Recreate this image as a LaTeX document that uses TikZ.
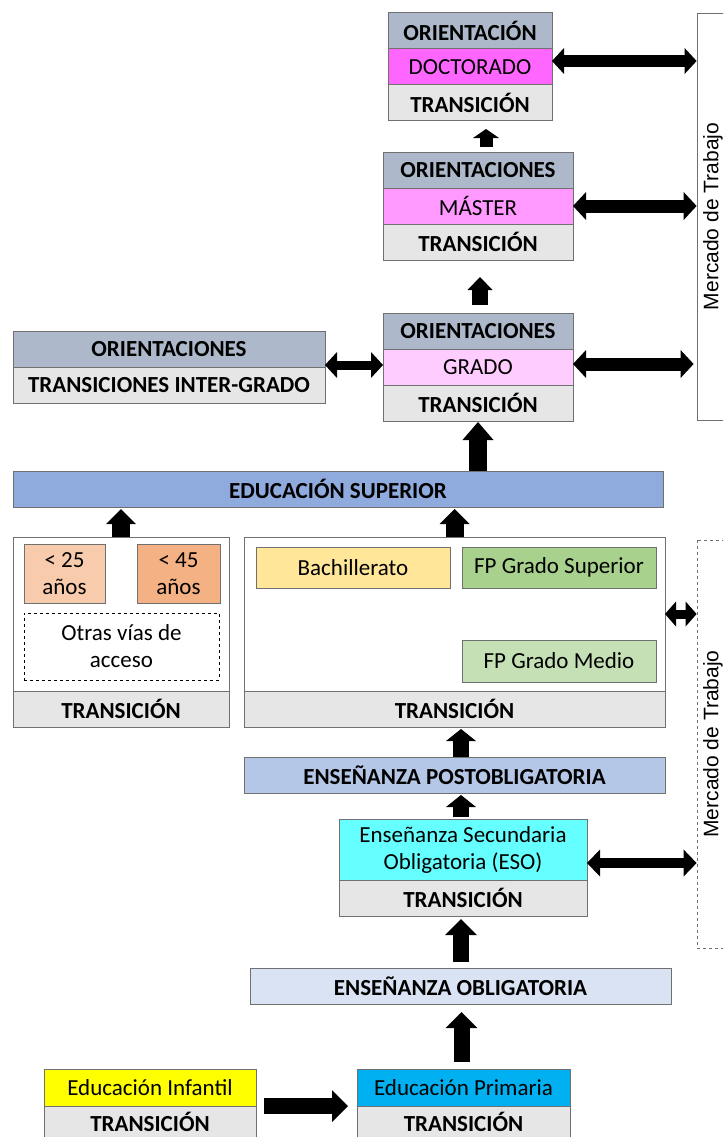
\documentclass[tikz,border=0pt]{standalone}
\usepackage{fontspec}
\setmainfont{Carlito}
\newfontfamily\arialfont{Liberation Sans}
\usetikzlibrary{arrows.meta,positioning}

\definecolor{edge}{HTML}{707070}
\definecolor{hdrgray}{HTML}{ADB9CA}
\definecolor{transgray}{HTML}{E6E6E6}
\definecolor{doccol}{HTML}{FF66FF}
\definecolor{mastcol}{HTML}{FF99FF}
\definecolor{gradcol}{HTML}{FFCCFF}
\definecolor{supcol}{HTML}{8FAADC}
\definecolor{postcol}{HTML}{B4C7E7}
\definecolor{oblcol}{HTML}{DAE3F3}
\definecolor{esocol}{HTML}{66FFFF}
\definecolor{bachcol}{HTML}{FFE699}
\definecolor{fpscol}{HTML}{A9D18E}
\definecolor{fpmcol}{HTML}{C5E0B4}
\definecolor{menorcol}{HTML}{F8CBAD}
\definecolor{mayorcol}{HTML}{F4B183}
\definecolor{infcol}{HTML}{FFFF00}
\definecolor{primcol}{HTML}{00B0F0}

\tikzset{
  box/.style={draw=edge, line width=1pt, rectangle, inner sep=0pt, outer sep=0pt,
    minimum height=36pt, align=center, font=\fontsize{23}{27}\selectfont},
  hdr/.style={box, fill=hdrgray, font=\fontsize{23}{27}\selectfont\bfseries},
  trans/.style={box, fill=transgray, font=\fontsize{23}{27}\selectfont\bfseries},
  mercado/.style={draw=edge, line width=0.8pt, rotate=90, inner sep=0pt,
    minimum width=407pt, minimum height=32pt, font=\arialfont\fontsize{21}{24}\selectfont},
  fatarr/.style n args={3}{line width=#1, -{Triangle[width=#2, length=#3, line width=0pt]}},
  fatdbl/.style n args={3}{line width=#1,
    {Triangle[width=#2, length=#3, line width=0pt]}-{Triangle[width=#2, length=#3, line width=0pt]}}
}

\begin{document}
\begin{tikzpicture}[x=1pt, y=-1pt]
    \useasboundingbox (0,0) rectangle (723,1137);
    \clip (0,0) rectangle (723,1137);

    % Doctorado
    \node[hdr, minimum width=164pt] (dorient) at (470,31) {ORIENTACIÓN};
    \node[box, fill=doccol, minimum width=164pt, below=0pt of dorient] (doct) {DOCTORADO};
    \node[trans, minimum width=164pt, below=0pt of doct] (dtrans) {TRANSICIÓN};

    % Master
    \node[hdr, minimum width=190pt] (morient) at (478,170) {ORIENTACIONES};
    \node[box, fill=mastcol, minimum width=190pt, below=0pt of morient] (mast) {MÁSTER};
    \node[trans, minimum width=190pt, below=0pt of mast] (mtrans) {TRANSICIÓN};

    % Grado
    \node[hdr, minimum width=190pt] (gorient) at (478,331) {ORIENTACIONES};
    \node[box, fill=gradcol, minimum width=190pt, below=0pt of gorient] (grado) {GRADO};
    \node[trans, minimum width=190pt, below=0pt of grado] (gtrans) {TRANSICIÓN};

    % Inter-grado
    \node[hdr, minimum width=312pt] (iorient) at (169,349) {ORIENTACIONES};
    \node[trans, minimum width=312pt, below=0pt of iorient] (itrans) {TRANSICIONES INTER-GRADO};

    % Mercado de trabajo
    \node[mercado] (mercado1) at (713,216.5) {Mercado de Trabajo};
    \node[mercado, dashed, minimum width=408pt] (mercado2) at (713,744) {Mercado de Trabajo};

    % Educacion superior
    \node[box, fill=supcol, minimum width=650pt, font=\fontsize{23}{27}\selectfont\bfseries] (edusup) at (338,489) {EDUCACIÓN SUPERIOR};

    % Acceso mayores
    \node[box, minimum width=216pt, minimum height=154pt] (lbody) at (121,614) {};
    \node[trans, minimum width=216pt, below=0pt of lbody] (ltrans) {TRANSICIÓN};
    \node[box, fill=menorcol, minimum width=81pt, minimum height=59pt] (menor) at (64.5,573.5) {< 25\\años};
    \node[box, fill=mayorcol, minimum width=83pt, minimum height=59pt] (mayor) at (178.5,573.5) {< 45\\años};
    \node[box, dashed, draw=black, line width=0.6pt, minimum width=195pt, minimum height=67pt] (otras) at (121.5,646.5) {Otras vías de\\acceso};

    % Bachillerato y FP
    \node[box, minimum width=421pt, minimum height=154pt] (bbody) at (454.5,614) {};
    \node[trans, minimum width=421pt, below=0pt of bbody] (btrans) {TRANSICIÓN};
    \node[box, fill=bachcol, minimum width=194pt, minimum height=41pt] (bach) at (353,567.5) {Bachillerato};
    \node[box, fill=fpscol, minimum width=194pt, minimum height=41pt] (fpsup) at (559,567.5) {FP Grado Superior};
    \node[box, fill=fpmcol, minimum width=194pt, minimum height=42pt] (fpmed) at (559,661) {FP Grado Medio};

    % Obligatoria
    \node[box, fill=postcol, minimum width=421pt, font=\fontsize{23}{27}\selectfont\bfseries] (post) at (454.5,775) {ENSEÑANZA POSTOBLIGATORIA};
    \node[box, fill=esocol, minimum width=248pt, minimum height=61pt] (eso) at (463,849.5) {Enseñanza Secundaria\\Obligatoria (ESO)};
    \node[trans, minimum width=248pt, below=0pt of eso] (esotrans) {TRANSICIÓN};
    \node[box, fill=oblcol, minimum width=421pt, font=\fontsize{23}{27}\selectfont\bfseries] (oblig) at (460.5,986) {ENSEÑANZA OBLIGATORIA};

    % Infantil y primaria
    \node[box, fill=infcol, minimum width=212pt, minimum height=37pt] (infant) at (150,1087.5) {Educación Infantil};
    \node[trans, minimum width=212pt, minimum height=32pt, below=0pt of infant] (inftrans) {TRANSICIÓN};
    \node[box, fill=primcol, minimum width=213pt, minimum height=37pt] (prim) at (463.5,1087.5) {Educación Primaria};
    \node[trans, minimum width=213pt, minimum height=32pt, below=0pt of prim] (primtrans) {TRANSICIÓN};

    % Flechas de avance
    \draw[fatarr={16pt}{32pt}{16pt}, shorten <=8pt, shorten >=9pt] (infant.south east) -- (prim.south west);
    \draw[fatarr={16pt}{32pt}{16pt}, shorten <=7pt, shorten >=8pt] ([xshift=-2pt]prim.north) -- ([xshift=-2pt]prim.north |- oblig.south);
    \draw[fatarr={16pt}{32pt}{16pt}, shorten <=6pt, shorten >=3pt] ([xshift=-2pt]oblig.north -| esotrans.south) -- ([xshift=-2pt]esotrans.south);
    \draw[fatarr={16pt}{30pt}{12pt}, shorten <=2pt, shorten >=2pt] ([xshift=-2pt]eso.north) -- ([xshift=-2pt]eso.north |- post.south);
    \draw[fatarr={16pt}{30pt}{12pt}, shorten >=2pt] ([xshift=6.5pt]post.north) -- ([xshift=6.5pt]post.north |- btrans.south);
    \draw[fatarr={18pt}{30pt}{15pt}, shorten >=2pt] (lbody.north) -- (lbody.north |- edusup.south);
    \draw[fatarr={18pt}{30pt}{15pt}, shorten >=2pt] (bbody.north) -- (bbody.north |- edusup.south);
    \draw[fatarr={18pt}{31pt}{18pt}, shorten >=1pt] (edusup.north -| gtrans.south) -- (gtrans.south);
    \draw[fatarr={16pt}{25pt}{13pt}, shorten <=8pt, shorten >=17pt] ([xshift=2pt]gorient.north) -- ([xshift=2pt]mtrans.south);
    \draw[fatarr={13pt}{26pt}{9pt}, shorten <=5pt, shorten >=8pt] ([xshift=8pt]morient.north) -- ([xshift=8pt]morient.north |- dtrans.south);

    % Flechas dobles
    \draw[fatdbl={12pt}{26pt}{12pt}] ([yshift=6pt]doct.east) -- ([yshift=6pt]doct.east -| mercado1.north);
    \draw[fatdbl={13pt}{28pt}{13pt}] (mast.east) -- (mast.east -| mercado1.north);
    \draw[fatdbl={13pt}{28pt}{13pt}, shorten >=3pt] ([yshift=3pt]grado.east) -- ([yshift=3pt]grado.east -| mercado1.north);
    \draw[fatdbl={9pt}{26pt}{12pt}] ([yshift=2pt]itrans.north east) -- ([yshift=2pt]grado.west);
    \draw[fatdbl={9pt}{25pt}{11pt}] (bbody.east) -- (bbody.east -| mercado2.north);
    \draw[fatdbl={10pt}{27pt}{13pt}] ([yshift=-13.5pt]eso.east) -- ([yshift=-13.5pt]eso.east -| mercado2.north);
\end{tikzpicture}
\end{document}
